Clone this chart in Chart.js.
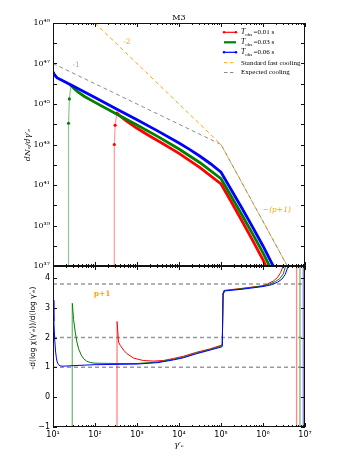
<!DOCTYPE html>
<html>
<head>
<meta charset="utf-8">
<script src="https://cdn.jsdelivr.net/npm/chart.js@4.4.1/dist/chart.umd.min.js"></script>
<style>
  html, body { margin: 0; padding: 0; background: #fff; }
  #wrap { position: relative; width: 349px; height: 465px; overflow: hidden; }
  canvas { position: absolute; left: 0; }
  #top { top: 0; }
  #bot { top: 256px; }
</style>
</head>
<body>
<div id="wrap">
  <canvas id="top" width="349" height="276"></canvas>
  <canvas id="bot" width="349" height="209"></canvas>
</div>
<script>
// ======== Data (log10 values) ========
const xTickExps = [1, 2, 3, 4, 5, 6, 7];
const topYTickExps = [37, 38, 39, 40, 41, 42, 43, 44, 45, 46, 47, 48, 49];
const topYLabelExps = [37, 39, 41, 43, 45, 47, 49];
const botYTicks = [-1, 0, 1, 2, 3, 4];
const obsTimes = ['0.01', '0.03', '0.06'];
const refNames = ['Standard fast cooling', 'Expected cooling'];

// top panel: [log10 gamma'_e, log10 dN_e/dgamma'_e]
const redTop = [[2.46, 30], [2.46, 43.0], [2.48, 43.95], [2.52, 44.55], [2.58, 44.44], [2.76, 44.14],
  [3.0, 43.8], [3.3, 43.42], [3.6, 43.06], [4.0, 42.56], [4.5, 41.86], [5.0, 41.05], [5.25, 40.15],
  [5.5, 39.22], [5.75, 38.28], [6.0, 37.3], [6.25, 36.2]];
const greenTop = [[1.37, 30], [1.37, 44.05], [1.39, 45.25], [1.43, 45.92], [1.5, 45.77], [1.6, 45.58],
  [1.75, 45.37], [2.0, 45.08], [2.5, 44.52], [3.0, 43.96], [3.5, 43.39], [4.0, 42.78], [4.5, 42.1],
  [5.0, 41.31], [5.25, 40.42], [5.5, 39.52], [5.75, 38.6], [6.0, 37.65], [6.25, 36.6], [6.5, 35.3]];
const blueTop = [[1.0, 46.58], [1.03, 46.47], [1.06, 46.38], [1.1, 46.29], [1.2, 46.18], [1.5, 45.86],
  [2.0, 45.32], [2.5, 44.77], [3.0, 44.22], [3.5, 43.66], [4.0, 43.07], [4.25, 42.76], [4.5, 42.42],
  [4.75, 42.05], [5.0, 41.63], [5.25, 40.74], [5.5, 39.85], [5.75, 38.93], [6.0, 37.99], [6.25, 36.97], [6.5, 35.8]];
const fastCooling = [[2.0, 49], [5.0, 43], [6.7, 36.54]];
const expectedCooling = [[1.0, 47], [5.0, 43], [6.7, 36.54]];

// bottom panel: [log10 gamma'_e, -dlog chi / dlog gamma'_e]
const redSlope = [[2.52, -20], [2.525, 2.54], [2.56, 1.85], [2.6, 1.74], [2.68, 1.58], [2.76, 1.46],
  [2.92, 1.31], [3.15, 1.23], [3.39, 1.21], [3.63, 1.23], [3.87, 1.3], [4.1, 1.37], [4.4, 1.5],
  [4.74, 1.62], [5.0, 1.74], [5.03, 1.76], [5.05, 3.5], [5.07, 3.58], [5.5, 3.65], [6.0, 3.74],
  [6.1, 3.79], [6.25, 3.9], [6.35, 4.02], [6.42, 4.18], [6.48, 4.4], [6.55, 5.2], [6.65, 8],
  [6.8, 20], [6.8, -20]];
const greenSlope = [[1.455, -20], [1.46, 3.15], [1.49, 2.6], [1.53, 2.18], [1.57, 1.85], [1.61, 1.62],
  [1.67, 1.42], [1.73, 1.29], [1.8, 1.21], [1.89, 1.16], [2.0, 1.14], [2.5, 1.13], [3.0, 1.13],
  [3.5, 1.18], [3.87, 1.27], [4.1, 1.34], [4.4, 1.47], [4.74, 1.6], [5.0, 1.71], [5.03, 1.73],
  [5.05, 3.5], [5.07, 3.57], [5.5, 3.64], [6.0, 3.73], [6.15, 3.79], [6.3, 3.88], [6.4, 3.98],
  [6.48, 4.13], [6.54, 4.4], [6.6, 5.2], [6.7, 8], [6.88, 20], [6.88, -20]];
const blueSlope = [[1.0, 3.25], [1.02, 2.55], [1.04, 1.95], [1.06, 1.55], [1.08, 1.32], [1.1, 1.18],
  [1.13, 1.09], [1.17, 1.05], [1.25, 1.04], [1.5, 1.06], [2.0, 1.09], [2.5, 1.1], [3.0, 1.11],
  [3.5, 1.16], [3.87, 1.25], [4.1, 1.32], [4.4, 1.45], [4.74, 1.58], [5.0, 1.68], [5.03, 1.7],
  [5.05, 3.5], [5.07, 3.56], [5.5, 3.62], [6.0, 3.71], [6.2, 3.77], [6.35, 3.86], [6.45, 3.96],
  [6.53, 4.12], [6.6, 4.4], [6.68, 5.2], [6.8, 8], [6.96, 20], [6.96, -20]];
const refLevels = [1, 2, 3.8];

// ======== Helpers ========
const RED = '#ff0000', GREEN = '#008000', BLUE = '#0000ff', ORANGE = '#ffa500', GREY = '#8c8c8c';
const SERIF = '"DejaVu Serif", serif';
const TIMES = '"Liberation Serif", serif';
const SANS = '"DejaVu Sans", sans-serif';
const SUP = { '0': '⁰', '1': '¹', '2': '²', '3': '³', '4': '⁴', '5': '⁵', '6': '⁶', '7': '⁷', '8': '⁸', '9': '⁹', '-': '⁻' };
const pow10Label = n => '10' + String(n).split('').map(c => SUP[c]).join('');

const toTop = arr => arr.map(([g, n]) => ({ x: 10 ** g, y: 10 ** n }));
const toBot = arr => arr.map(([g, v]) => ({ x: 10 ** g, y: v }));

function rising(c) { return c.p1.parsed.y > c.p0.parsed.y; }
function vertical(c) { return Math.abs(Math.log10(c.p1.parsed.x / c.p0.parsed.x)) < 0.015; }

function stepPoint(ctx) {
  const d = ctx.dataset.data, i = ctx.dataIndex;
  const up = i + 1 < d.length && d[i + 1].y > d[i].y;
  const peak = i > 0 && d[i - 1].y < d[i].y;
  return up || peak ? 1.6 : 0;
}

function topSet(arr, color, light) {
  return {
    data: toTop(arr), borderColor: color, borderWidth: 2.8, clip: 0, tension: 0,
    pointRadius: stepPoint, pointBackgroundColor: color, pointBorderWidth: 0,
    segment: {
      borderColor: c => rising(c) ? light : undefined,
      borderWidth: c => rising(c) ? 1.2 : undefined
    }
  };
}
function dashSet(arr, color) {
  return { data: toTop(arr), borderColor: color, borderWidth: 1, borderDash: [4, 3], pointRadius: 0, clip: 0 };
}
function botSet(arr, color, light) {
  return {
    data: toBot(arr), borderColor: color, borderWidth: 1, clip: 0, pointRadius: 0, tension: 0,
    segment: {
      borderColor: c => vertical(c) ? light : undefined,
      borderWidth: c => vertical(c) ? 1.4 : undefined
    }
  };
}

// ======== Frame with inward ticks (matplotlib style) ========
const frameTicks = {
  id: 'frameTicks',
  afterDatasetsDraw(chart, args, opts) {
    const { ctx, chartArea: a, scales } = chart;
    ctx.save();
    ctx.strokeStyle = '#111';
    ctx.lineWidth = 1;
    const seg = (x1, y1, x2, y2) => { ctx.beginPath(); ctx.moveTo(x1, y1); ctx.lineTo(x2, y2); ctx.stroke(); };
    xTickExps.forEach(n => {
      for (let k = 1; k <= 9; k++) {
        if (n === 7 && k > 1) break;
        const px = Math.round(scales.x.getPixelForValue(k * 10 ** n)) + 0.5;
        const len = k === 1 ? 4 : 2;
        seg(px, a.top, px, a.top + len);
        seg(px, a.bottom, px, a.bottom - len);
      }
    });
    opts.yTicks.forEach(v => {
      const py = Math.round(scales.y.getPixelForValue(v)) + 0.5;
      seg(a.left, py, a.left + 4, py);
      seg(a.right, py, a.right - 4, py);
    });
    ctx.strokeRect(Math.round(a.left) + 0.5, Math.round(a.top) + 0.5, Math.round(a.width) - 1, Math.round(a.height) - 1);
    ctx.restore();
  }
};

function rotatedText(ctx, text, x, y, font, color) {
  ctx.save();
  ctx.translate(x, y);
  ctx.rotate(-Math.PI / 2);
  ctx.font = font;
  ctx.fillStyle = color;
  ctx.textAlign = 'center';
  ctx.textBaseline = 'middle';
  ctx.fillText(text, 0, 0);
  ctx.restore();
}

// ======== Texts of the top panel: title, labels, legend ========
const topText = {
  id: 'topText',
  afterDraw(chart) {
    const { ctx, chartArea: a, scales } = chart;
    const X = e => scales.x.getPixelForValue(10 ** e), Y = e => scales.y.getPixelForValue(10 ** e);
    ctx.save();
    ctx.textAlign = 'center';
    ctx.textBaseline = 'middle';
    ctx.fillStyle = '#000';
    ctx.font = '8px ' + SERIF;
    ctx.fillText('M3', (a.left + a.right) / 2, 18);
    rotatedText(ctx, 'dNₑ/dγ′ₑ', 28, 145, 'italic 8px ' + SERIF, '#000');

    ctx.font = '7.5px ' + SERIF;
    ctx.fillStyle = ORANGE;
    ctx.fillText('-2', X(2.76), Y(48.04));
    ctx.fillStyle = '#aaa';
    ctx.fillText('-1', X(1.55), Y(46.9));
    ctx.fillStyle = ORANGE;
    ctx.font = 'italic 7.5px ' + SERIF;
    ctx.fillText('−(p+1)', X(6.33), Y(39.77));

    // legend
    const lx = a.right - 81, tx = a.right - 64;
    const rowsY = [32.3, 42.3, 52.3, 62.7, 72.5];
    const colors = [RED, GREEN, BLUE];
    ctx.textAlign = 'left';
    obsTimes.forEach((t, i) => {
      const y = rowsY[i];
      ctx.strokeStyle = colors[i];
      ctx.fillStyle = colors[i];
      ctx.lineWidth = i === 1 ? 2.2 : 1.2;
      ctx.beginPath(); ctx.moveTo(lx, y); ctx.lineTo(lx + 12, y); ctx.stroke();
      if (i !== 1) {
        [lx, lx + 12].forEach(px => { ctx.beginPath(); ctx.arc(px, y, 1.2, 0, 2 * Math.PI); ctx.fill(); });
      }
      ctx.fillStyle = '#000';
      ctx.font = 'italic 7.5px ' + TIMES;
      ctx.fillText('T', tx, y);
      let w = ctx.measureText('T').width;
      ctx.font = '5px ' + TIMES;
      ctx.fillText('obs', tx + w, y + 2);
      w += ctx.measureText('obs').width + 1.5;
      ctx.font = '7px ' + TIMES;
      ctx.fillText('=' + t + ' s', tx + w, y);
    });
    [ORANGE, GREY].forEach((c, j) => {
      const y = rowsY[3 + j];
      ctx.strokeStyle = c;
      ctx.lineWidth = 1;
      ctx.setLineDash([3.5, 2.5]);
      ctx.beginPath(); ctx.moveTo(lx, y); ctx.lineTo(lx + 12, y); ctx.stroke();
      ctx.setLineDash([]);
      ctx.fillStyle = '#000';
      ctx.font = '7px ' + TIMES;
      ctx.fillText(refNames[j], tx, y);
    });
    ctx.restore();
  }
};

// ======== Texts of the bottom panel ========
const botText = {
  id: 'botText',
  afterDraw(chart) {
    const { ctx, chartArea: a, scales } = chart;
    ctx.save();
    ctx.textAlign = 'center';
    ctx.textBaseline = 'middle';
    ctx.fillStyle = ORANGE;
    ctx.font = 'bold 7.5px ' + SERIF;
    ctx.fillText('p+1', scales.x.getPixelForValue(10 ** 2.17), scales.y.getPixelForValue(3.46));
    rotatedText(ctx, '-d(log χ(γ′ₑ))/d(log γ′ₑ)', 33, 328 - 256, '7.5px ' + SANS, '#000');
    ctx.fillStyle = '#000';
    ctx.font = 'italic 8px ' + SERIF;
    ctx.fillText('γ′ₑ', (a.left + a.right) / 2, 445 - 256);
    ctx.restore();
  }
};

const common = {
  responsive: false,
  animation: false,
  devicePixelRatio: 1,
  events: []
};

// ======== Top panel: electron spectrum ========
new Chart(document.getElementById('top'), {
  type: 'line',
  data: {
    datasets: [
      dashSet(fastCooling, ORANGE),
      dashSet(expectedCooling, GREY),
      topSet(redTop, RED, 'rgba(255,0,0,0.4)'),
      topSet(greenTop, GREEN, 'rgba(0,128,0,0.45)'),
      topSet(blueTop, BLUE, 'rgba(0,0,255,0.4)')
    ].map((d, i) => Object.assign(d, { order: 5 - i }))
  },
  options: Object.assign({}, common, {
    layout: { padding: { left: 0, right: 44, top: 23, bottom: 10 } },
    plugins: {
      legend: { display: false },
      tooltip: { enabled: false },
      frameTicks: { yTicks: topYTickExps.map(n => 10 ** n) }
    },
    scales: {
      x: { type: 'logarithmic', min: 10, max: 1e7, display: false },
      y: {
        type: 'logarithmic', min: 1e37, max: 1e49,
        grid: { display: false, drawTicks: false },
        border: { display: false },
        afterFit: s => { s.width = 53; },
        afterBuildTicks: s => { s.ticks = topYLabelExps.map(n => ({ value: 10 ** n })); },
        ticks: {
          padding: 3, color: '#000', font: { family: SERIF, size: 8 },
          callback: v => pow10Label(Math.round(Math.log10(v)))
        }
      }
    }
  }),
  plugins: [frameTicks, topText]
});

// ======== Bottom panel: local slope ========
new Chart(document.getElementById('bot'), {
  type: 'line',
  data: {
    datasets: refLevels.map(v => ({
      data: [{ x: 10, y: v }, { x: 1e7, y: v }],
      borderColor: '#999', borderWidth: 1.5, borderDash: [4, 3], pointRadius: 0, clip: 0
    })).concat([
      botSet(redSlope, RED, 'rgba(255,0,0,0.45)'),
      botSet(greenSlope, GREEN, 'rgba(0,128,0,0.5)'),
      botSet(blueSlope, BLUE, 'rgba(0,0,255,0.45)')
    ]).map((d, i) => Object.assign(d, { order: 6 - i }))
  },
  options: Object.assign({}, common, {
    layout: { padding: { left: 0, right: 44, top: 10, bottom: 0 } },
    plugins: {
      legend: { display: false },
      tooltip: { enabled: false },
      frameTicks: { yTicks: botYTicks }
    },
    scales: {
      x: {
        type: 'logarithmic', min: 10, max: 1e7,
        grid: { display: false, drawTicks: false },
        border: { display: false },
        afterFit: s => { s.height = 38; },
        afterBuildTicks: s => { s.ticks = xTickExps.map(n => ({ value: 10 ** n })); },
        ticks: {
          padding: 3, color: '#000', autoSkip: false, maxRotation: 0,
          font: { family: SANS, size: 8 },
          callback: v => pow10Label(Math.round(Math.log10(v)))
        }
      },
      y: {
        type: 'linear', min: -1, max: 4.4,
        grid: { display: false, drawTicks: false },
        border: { display: false },
        afterFit: s => { s.width = 53; },
        afterBuildTicks: s => { s.ticks = botYTicks.map(v => ({ value: v })); },
        ticks: {
          padding: 3, color: '#000', font: { family: SANS, size: 8 },
          callback: v => (v < 0 ? '−' + Math.abs(v) : String(v))
        }
      }
    }
  }),
  plugins: [frameTicks, botText]
});
</script>
</body>
</html>
